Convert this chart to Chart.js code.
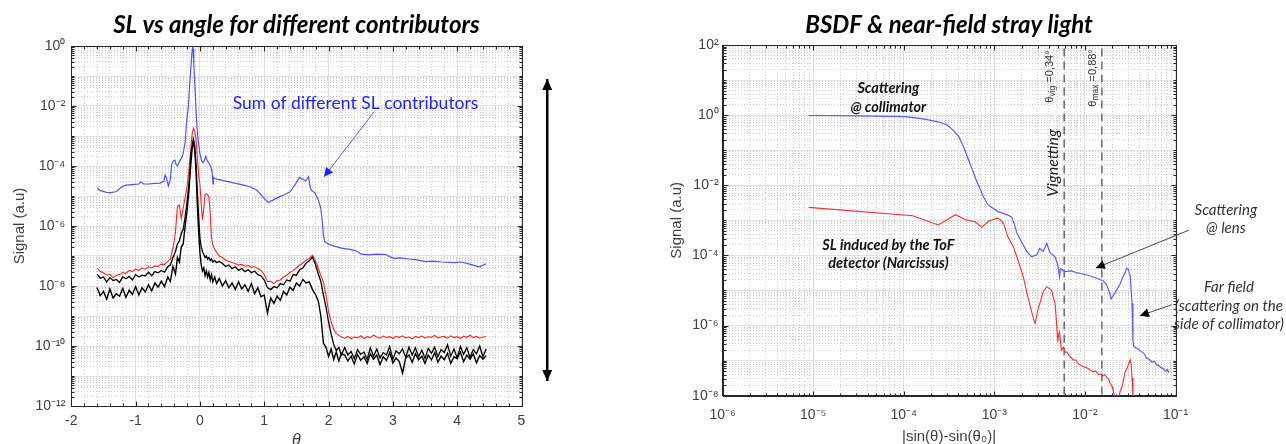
<!DOCTYPE html>
<html>
<head>
<meta charset="utf-8">
<script src="https://cdn.jsdelivr.net/npm/chart.js@4.4.0/dist/chart.umd.min.js"></script>
<style>
  body { margin: 0; background: #fff; width: 1286px; height: 444px; overflow: hidden; position: relative; }
  canvas { position: absolute; top: 0; }
  #chartTheta { left: 0; }
  #chartBsdf { left: 612px; }
</style>
</head>
<body>
<canvas id="chartTheta" width="593" height="444"></canvas>
<canvas id="chartBsdf" width="674" height="444"></canvas>
<script>
// ---- left chart: signal vs theta (values stored as log10 of the signal) ----
const sumCurve = [
  [-1.60,-4.74],[-1.55,-4.82],[-1.45,-4.88],[-1.38,-4.89],[-1.30,-4.85],[-1.22,-4.70],[-1.15,-4.64],
  [-1.05,-4.62],[-0.95,-4.60],[-0.92,-4.53],[-0.88,-4.60],[-0.80,-4.60],[-0.70,-4.58],[-0.62,-4.57],
  [-0.56,-4.50],[-0.54,-4.30],[-0.52,-4.40],[-0.49,-4.67],[-0.46,-4.45],[-0.44,-3.95],[-0.41,-3.82],
  [-0.39,-3.80],[-0.37,-3.95],[-0.35,-4.00],[-0.33,-3.92],[-0.31,-3.82],[-0.28,-3.70],[-0.26,-3.58],
  [-0.23,-3.20],[-0.21,-2.60],[-0.18,-2.00],[-0.155,-1.15],[-0.135,-0.55],[-0.12,-0.10],[-0.113,0.0],
  [-0.105,-0.10],[-0.095,-0.60],[-0.08,-1.25],[-0.065,-1.90],[-0.05,-2.55],[-0.03,-3.10],[0.00,-3.60],
  [0.03,-3.85],[0.05,-3.90],[0.07,-3.80],[0.09,-3.68],[0.11,-3.80],[0.13,-3.88],[0.15,-3.95],
  [0.17,-4.02],[0.19,-4.20],[0.205,-4.60],[0.21,-4.38],[0.22,-4.40],[0.26,-4.44],[0.35,-4.48],
  [0.52,-4.56],[0.65,-4.62],[0.78,-4.69],[0.88,-4.80],[0.93,-4.91],[1.00,-5.08],[1.06,-5.22],
  [1.15,-5.12],[1.24,-5.02],[1.32,-4.95],[1.40,-4.86],[1.48,-4.62],[1.55,-4.38],[1.58,-4.42],
  [1.61,-4.45],[1.64,-4.50],[1.66,-4.45],[1.69,-4.36],[1.71,-4.65],[1.73,-4.80],[1.76,-4.85],
  [1.79,-4.90],[1.84,-5.13],[1.88,-5.40],[1.90,-5.80],[1.92,-6.30],[1.94,-6.52],[1.98,-6.58],
  [2.02,-6.62],[2.10,-6.68],[2.20,-6.74],[2.33,-6.78],[2.42,-6.82],[2.51,-6.94],[2.62,-6.96],
  [2.75,-6.94],[2.89,-6.95],[2.95,-7.02],[3.02,-7.08],[3.12,-7.06],[3.25,-7.10],[3.38,-7.13],
  [3.51,-7.19],[3.62,-7.17],[3.75,-7.20],[3.87,-7.21],[3.95,-7.22],[4.07,-7.20],[4.18,-7.26],
  [4.28,-7.32],[4.33,-7.36],[4.38,-7.33],[4.45,-7.26]
];

const thetaGrid = [
  -1.60,-1.55,-1.50,-1.45,-1.40,-1.35,-1.30,-1.25,-1.20,-1.15,-1.10,-1.05,-1.00,-0.95,-0.90,-0.85,-0.80,-0.75,-0.70,-0.65,-0.60,-0.55,-0.50,
  -0.46,-0.42,-0.38,-0.35,-0.32,-0.29,-0.26,-0.23,-0.20,-0.17,-0.14,-0.12,-0.10,-0.08,-0.06,-0.04,-0.02,0.00,0.02,0.04,0.06,0.08,0.10,0.12,0.14,0.16,0.18,0.20,0.23,0.26,0.30,
  0.35,0.40,0.45,0.50,0.55,0.60,0.65,0.70,0.75,0.80,0.85,0.90,0.95,1.00,1.05,1.10,1.15,1.20,1.25,1.30,1.35,1.40,1.45,1.50,1.55,1.60,1.65,1.70,1.75,1.80,
  1.84,1.88,1.92,1.96,2.00,2.04,2.08,2.12,2.16,2.20,
  2.25,2.30,2.35,2.40,2.45,2.50,2.55,2.60,2.65,2.70,2.75,2.80,2.85,2.90,2.95,3.00,3.05,3.10,3.15,3.20,3.25,3.30,3.35,3.40,3.45,
  3.50,3.55,3.60,3.65,3.70,3.75,3.80,3.85,3.90,3.95,4.00,4.05,4.10,4.15,4.20,4.25,4.30,4.35,4.40,4.45
];

const redLog = [
  -7.40,-7.52,-7.56,-7.64,-7.61,-7.72,-7.65,-7.62,-7.55,-7.58,-7.48,-7.52,-7.44,-7.48,-7.40,-7.44,-7.36,-7.40,-7.33,-7.35,-7.27,-7.28,-7.18,
  -7.10,-6.75,-6.20,-5.35,-5.30,-5.75,-5.40,-5.05,-4.70,-4.10,-3.40,-2.90,-2.74,-2.85,-3.10,-3.70,-4.30,-4.60,-5.30,-5.80,-5.40,-4.95,-4.92,-4.95,-5.05,-5.60,-6.40,-6.62,-6.78,-6.88,-7.00,
  -7.05,-7.14,-7.18,-7.22,-7.25,-7.30,-7.28,-7.34,-7.32,-7.38,-7.36,-7.42,-7.48,-7.62,-7.85,-7.84,-7.92,-7.82,-7.80,-7.70,-7.64,-7.55,-7.48,-7.40,-7.30,-7.24,-7.14,-7.08,-6.97,-7.18,
  -7.40,-7.66,-7.86,-8.30,-8.85,-9.20,-9.45,-9.58,-9.65,-9.70,
  -9.74,-9.68,-9.76,-9.70,-9.73,-9.66,-9.75,-9.69,-9.72,-9.64,-9.70,-9.74,-9.67,-9.72,-9.69,-9.75,-9.68,-9.71,-9.66,-9.73,-9.70,-9.76,-9.68,-9.72,-9.67,
  -9.74,-9.69,-9.71,-9.65,-9.73,-9.70,-9.68,-9.74,-9.66,-9.72,-9.69,-9.75,-9.67,-9.71,-9.64,-9.72,-9.68,-9.74,-9.70,-9.69
];

const blackUpperLog = [
  -7.60,-7.74,-7.70,-7.86,-7.72,-7.82,-7.78,-7.88,-7.70,-7.76,-7.68,-7.80,-7.62,-7.70,-7.64,-7.66,-7.54,-7.66,-7.52,-7.56,-7.48,-7.54,-7.36,
  -7.30,-7.05,-6.85,-6.60,-6.50,-6.25,-6.10,-5.70,-5.20,-4.60,-3.60,-3.30,-3.10,-3.35,-3.95,-4.90,-5.70,-6.40,-6.70,-6.85,-6.95,-7.05,-7.00,-7.10,-7.05,-7.15,-7.10,-7.20,-7.15,-7.22,-7.18,
  -7.25,-7.35,-7.30,-7.42,-7.36,-7.48,-7.42,-7.52,-7.46,-7.56,-7.50,-7.62,-7.66,-7.80,-8.05,-8.12,-8.02,-8.06,-7.92,-7.96,-7.80,-7.84,-7.62,-7.64,-7.46,-7.40,-7.24,-7.16,-7.04,-7.30,
  -7.60,-7.85,-8.30,-8.70,-9.20,-9.60,-9.95,-10.15,-10.05,-10.30,
  -10.05,-10.30,-10.18,-10.42,-10.12,-10.28,-10.20,-10.45,-10.06,-10.34,-10.10,-10.40,-10.22,-10.30,-10.02,-10.44,-10.16,-10.26,-10.10,-10.38,-10.04,-10.30,-10.06,-10.36,-10.14,
  -10.42,-10.08,-10.24,-10.04,-10.36,-10.12,-10.22,-9.96,-10.34,-10.10,-10.40,-10.02,-10.28,-10.06,-10.38,-10.12,-10.26,-10.00,-10.36,-10.10
];

const blackLowerLog = [
  -8.05,-8.32,-8.18,-8.44,-8.10,-8.40,-8.26,-8.34,-8.08,-8.38,-8.14,-8.28,-8.02,-8.30,-8.06,-8.20,-7.96,-8.16,-7.90,-8.04,-7.84,-8.02,-7.70,
  -7.85,-7.35,-7.60,-7.05,-7.20,-6.70,-6.60,-6.00,-5.50,-4.80,-3.90,-3.40,-3.20,-3.50,-4.20,-5.30,-6.20,-6.90,-7.30,-7.50,-7.40,-7.65,-7.50,-7.70,-7.55,-7.80,-7.62,-7.86,-7.70,-7.92,-7.75,
  -8.00,-7.82,-8.06,-7.90,-8.12,-7.86,-8.10,-7.96,-8.18,-7.92,-8.26,-8.06,-8.36,-8.30,-8.90,-8.40,-8.58,-8.34,-8.48,-8.18,-8.30,-8.04,-8.14,-7.90,-8.00,-7.78,-7.90,-7.86,-8.12,-8.30,
  -8.50,-9.00,-9.90,-10.05,-10.35,-10.10,-10.45,-10.20,-10.50,-10.25,
  -10.30,-10.50,-10.34,-10.60,-10.28,-10.48,-10.36,-10.58,-10.26,-10.44,-10.30,-10.62,-10.36,-10.48,-10.22,-10.56,-10.40,-10.52,-10.90,-10.40,-10.30,-10.54,-10.26,-10.46,-10.34,
  -10.58,-10.30,-10.46,-10.22,-10.54,-10.34,-10.46,-10.24,-10.58,-10.36,-10.42,-10.20,-10.52,-10.30,-10.44,-10.26,-10.56,-10.32,-10.44,-10.32
];

// ---- right chart: BSDF, [log10 |sin(t)-sin(t0)|, log10 signal] ----
const collimatorCurve = [
  [-5.05,-0.01],[-4.50,-0.02],[-3.99,-0.04],[-3.80,-0.10],[-3.62,-0.19],[-3.52,-0.28],[-3.45,-0.44],
  [-3.39,-0.62],[-3.34,-0.90],[-3.27,-1.37],[-3.20,-1.85],[-3.12,-2.33],[-3.07,-2.56],[-3.01,-2.66],
  [-2.96,-2.75],[-2.90,-2.80],[-2.85,-2.85],[-2.81,-2.90],[-2.78,-3.10],[-2.75,-3.37],[-2.70,-3.61],
  [-2.64,-3.89],[-2.59,-4.04],[-2.53,-3.98],[-2.50,-3.80],[-2.46,-3.88],[-2.42,-3.66],[-2.39,-3.90],
  [-2.33,-4.04],[-2.30,-4.27],[-2.28,-4.61],[-2.27,-4.38],[-2.22,-4.46],[-2.15,-4.44],[-2.08,-4.50],
  [-2.02,-4.53],[-1.95,-4.58],[-1.87,-4.65],[-1.80,-4.72],[-1.76,-4.84],[-1.73,-5.05],[-1.71,-5.24],
  [-1.68,-5.12],[-1.65,-4.99],[-1.61,-4.80],[-1.58,-4.61],[-1.55,-4.45],[-1.54,-4.37],[-1.52,-4.40],
  [-1.50,-4.60],[-1.48,-5.37],[-1.47,-6.41],[-1.46,-6.60],[-1.42,-6.66],[-1.37,-6.75],[-1.34,-6.82],
  [-1.32,-6.93],[-1.29,-6.96],[-1.26,-7.04],[-1.23,-7.02],[-1.21,-7.12],[-1.18,-7.15],[-1.16,-7.20],
  [-1.14,-7.22],[-1.11,-7.30],[-1.09,-7.26],[-1.07,-7.34]
];

const narcissusCurve = [
  [-5.05,-2.63],[-3.90,-2.87],[-3.62,-3.13],[-3.43,-2.84],[-3.31,-2.99],[-3.21,-3.04],[-3.14,-3.20],
  [-3.06,-3.02],[-2.97,-2.94],[-2.94,-2.97],[-2.90,-3.08],[-2.85,-3.47],[-2.79,-3.75],[-2.74,-4.13],
  [-2.68,-4.61],[-2.63,-5.18],[-2.57,-5.79],[-2.55,-5.94],[-2.52,-5.56],[-2.46,-5.03],[-2.42,-4.89],
  [-2.37,-4.98],[-2.33,-5.37],[-2.31,-6.03],[-2.30,-6.46],[-2.29,-6.25],[-2.28,-6.18],[-2.26,-6.70],
  [-2.24,-6.62],[-2.22,-6.76],[-2.20,-6.75],[-2.17,-6.86],[-2.13,-6.98],[-2.10,-6.98],[-2.07,-7.10],
  [-2.02,-7.17],[-1.97,-7.22],[-1.91,-7.32],[-1.88,-7.30],[-1.85,-7.40],[-1.82,-7.38],[-1.80,-7.44],
  [-1.78,-7.40],[-1.76,-7.48],[-1.74,-7.52],[-1.72,-7.65],[-1.70,-7.74],[-1.69,-7.84],[-1.67,-8.05],
  [-1.65,-7.98],[-1.63,-8.10],[-1.61,-7.86],[-1.59,-7.74],[-1.57,-7.50],[-1.56,-7.36],[-1.53,-7.18],
  [-1.50,-6.98],[-1.49,-7.10],[-1.48,-7.50],[-1.47,-8.00],[-1.46,-8.60]
];

const cutoffX = [0.0059, 0.0154];            // sin(0.34°), sin(0.88°)
const cutoffLabels = [['θ', 'vig', ' =0,34°'], ['θ', 'max', ' =0,88°']];

[redLog, blackUpperLog, blackLowerLog].forEach(a => {
  if (a.length !== thetaGrid.length) throw new Error('length mismatch ' + a.length + ' vs ' + thetaGrid.length);
});

// ---- helpers ----
Chart.defaults.font.family = "'Liberation Sans', Arial, sans-serif";
Chart.defaults.color = '#404040';

const supMap = {'-':'⁻','0':'⁰','1':'¹','2':'²','3':'³','4':'⁴','5':'⁵','6':'⁶','7':'⁷','8':'⁸','9':'⁹'};
function powerLabel(v) {
  const e = Math.round(Math.log10(v));
  return '10' + String(e).split('').map(c => supMap[c]).join('');
}

function logTicks(minExp, maxExp, every) {
  const ticks = [];
  for (let e = minExp; e <= maxExp; e++) {
    ticks.push({ value: Math.pow(10, e), show: e % every === 0, solid: true });
    if (e < maxExp) {
      for (let m = 2; m <= 9; m++) ticks.push({ value: m * Math.pow(10, e), show: false, solid: false });
    }
  }
  return ticks;
}

function linTicks(min, max, sub) {
  const ticks = [];
  for (let i = min * sub; i <= max * sub; i++) {
    ticks.push({ value: i / sub, show: i % sub === 0, solid: i % sub === 0 });
  }
  return ticks;
}

const gridStyle = {
  grid: { drawTicks: false, color: c => (c.tick && c.tick.solid) ? '#e1e1e1' : '#cdcdcd', lineWidth: 1 },
  border: { color: '#262626', dash: c => (c.tick && !c.tick.solid) ? [1, 2] : [] }
};

const toPoints = pairs => pairs.map(p => ({ x: p[0], y: Math.pow(10, p[1]) }));
const toPointsLogXY = pairs => pairs.map(p => ({ x: Math.pow(10, p[0]), y: Math.pow(10, p[1]) }));
const onGrid = logs => thetaGrid.map((t, i) => ({ x: t, y: Math.pow(10, logs[i]) }));

function arrow(ctx, x1, y1, x2, y2, len, half, both) {
  ctx.beginPath(); ctx.moveTo(x1, y1); ctx.lineTo(x2, y2); ctx.stroke();
  const heads = both ? [[x2, y2, x1, y1], [x1, y1, x2, y2]] : [[x2, y2, x1, y1]];
  heads.forEach(([hx, hy, fx, fy]) => {
    const a = Math.atan2(hy - fy, hx - fx);
    ctx.beginPath();
    ctx.moveTo(hx, hy);
    ctx.lineTo(hx - len * Math.cos(a) + half * Math.sin(a), hy - len * Math.sin(a) - half * Math.cos(a));
    ctx.lineTo(hx - len * Math.cos(a) - half * Math.sin(a), hy - len * Math.sin(a) + half * Math.cos(a));
    ctx.closePath(); ctx.fill();
  });
}

function text(ctx, str, x, y, font, color, rot) {
  ctx.save();
  ctx.translate(x, y);
  if (rot) ctx.rotate(rot);
  ctx.font = font; ctx.fillStyle = color;
  ctx.textAlign = 'center'; ctx.textBaseline = 'middle';
  ctx.fillText(str, 0, 0);
  ctx.restore();
}

function titlePlugin(title) {
  return {
    id: 'matlabTitle',
    afterDraw(chart) {
      const a = chart.chartArea;
      text(chart.ctx, title, (a.left + a.right) / 2, 25, "italic bold 24px Lato", '#000');
    }
  };
}

const axesFrame = {
  id: 'axesFrame',
  afterDatasetsDraw(chart) {
    const { ctx, chartArea: a, scales: { x, y } } = chart;
    const L = Math.round(a.left) + 0.5, R = Math.round(a.right) + 0.5;
    const T = Math.round(a.top) + 0.5, B = Math.round(a.bottom) + 0.5;
    ctx.save();
    ctx.strokeStyle = '#262626'; ctx.lineWidth = 1;
    ctx.strokeRect(L, T, R - L, B - T);
    ctx.beginPath();
    x.ticks.forEach(t => {
      const p = Math.round(x.getPixelForValue(t.value)) + 0.5, len = t.show ? 5 : 3;
      ctx.moveTo(p, B); ctx.lineTo(p, B - len); ctx.moveTo(p, T); ctx.lineTo(p, T + len);
    });
    y.ticks.forEach(t => {
      const p = Math.round(y.getPixelForValue(t.value)) + 0.5, len = t.show ? 5 : 3;
      ctx.moveTo(L, p); ctx.lineTo(L + len, p); ctx.moveTo(R, p); ctx.lineTo(R - len, p);
    });
    ctx.stroke();
    ctx.restore();
  }
};

// ---- left chart annotations ----
const thetaNotes = {
  id: 'thetaNotes',
  afterDraw(chart) {
    const { ctx } = chart;
    const px = (x, l) => [chart.scales.x.getPixelForValue(x), chart.scales.y.getPixelForValue(Math.pow(10, l))];
    ctx.save();
    const [tx, ty] = px(2.42, -1.9);
    text(ctx, 'Sum of different SL contributors', tx, ty, "17.5px Lato", '#1f1fff');
    ctx.strokeStyle = '#5a5aff'; ctx.fillStyle = '#1f1fff'; ctx.lineWidth = 1;
    const [a1x, a1y] = px(2.71, -2.19), [a2x, a2y] = px(1.93, -4.36);
    arrow(ctx, a1x, a1y, a2x, a2y, 9, 4.5, false);
    ctx.strokeStyle = '#000'; ctx.fillStyle = '#000'; ctx.lineWidth = 2.5;
    const [d1x, d1y] = px(5.4, -0.97), [, d2y] = px(5.4, -11.3);
    arrow(ctx, d1x, d1y + 4, d1x, d2y - 4, 11, 5, true);
    ctx.restore();
  }
};

// ---- right chart annotations ----
const bsdfNotes = {
  id: 'bsdfNotes',
  beforeDatasetsDraw(chart) {
    const { ctx } = chart;
    const y = chart.scales.y;
    ctx.save();
    ctx.strokeStyle = '#555'; ctx.lineWidth = 1.3; ctx.setLineDash([8, 5]);
    cutoffX.forEach(v => {
      const p = chart.scales.x.getPixelForValue(v);
      ctx.beginPath(); ctx.moveTo(p, y.getPixelForValue(Math.pow(10, 1.9))); ctx.lineTo(p, chart.chartArea.bottom); ctx.stroke();
    });
    ctx.restore();
  },
  afterDraw(chart) {
    const { ctx } = chart;
    const px = (lx, ly) => [chart.scales.x.getPixelForValue(Math.pow(10, lx)), chart.scales.y.getPixelForValue(Math.pow(10, ly))];
    const bi = "italic bold 14.5px Lato", it = "italic 15px Lato";
    ctx.save();
    text(ctx, 'Scattering', ...px(-4.17, 0.77), bi, '#111');
    text(ctx, '@ collimator', ...px(-4.17, 0.23), bi, '#111');
    text(ctx, 'SL induced by the ToF', ...px(-4.17, -3.70), bi, '#111');
    text(ctx, 'detector (Narcissus)', ...px(-4.17, -4.22), bi, '#111');
    text(ctx, 'Vignetting', ...px(-2.353, -1.365), "italic 16px Lato", '#222', -Math.PI / 2);
    text(ctx, 'Scattering', ...px(-0.444, -2.70), it, '#333');
    text(ctx, '@ lens', ...px(-0.444, -3.22), it, '#333');
    text(ctx, 'Far field', ...px(-0.41, -4.90), it, '#333');
    text(ctx, '(scattering on the', ...px(-0.41, -5.44), it, '#333');
    text(ctx, 'side of collimator)', ...px(-0.41, -5.96), it, '#333');

    // rotated cut-off labels with subscripts
    const anchors = [px(-2.386, 1.10), px(-1.912, 1.06)];
    cutoffLabels.forEach((parts, k) => {
      const [ax, ay] = anchors[k];
      ctx.save();
      ctx.translate(ax, ay); ctx.rotate(-Math.PI / 2);
      ctx.fillStyle = '#333'; ctx.textBaseline = 'middle'; ctx.textAlign = 'left';
      const fonts = ["11px 'Liberation Sans'", "8.5px 'Liberation Sans'", "11px 'Liberation Sans'"];
      const widths = parts.map((p, i) => { ctx.font = fonts[i]; return ctx.measureText(p).width; });
      let cx = -widths.reduce((s, w) => s + w, 0) / 2;
      parts.forEach((p, i) => { ctx.font = fonts[i]; ctx.fillText(p, cx, i === 1 ? 3 : 0); cx += widths[i]; });
      ctx.restore();
    });

    ctx.strokeStyle = '#444'; ctx.fillStyle = '#000'; ctx.lineWidth = 1;
    const [l1x, l1y] = px(-0.852, -3.28), [l2x, l2y] = px(-1.879, -4.36);
    arrow(ctx, l1x, l1y, l2x, l2y, 9, 4.5, false);
    const [f1x, f1y] = px(-1.043, -5.41), [f2x, f2y] = px(-1.393, -5.72);
    arrow(ctx, f1x, f1y, f2x, f2y, 9, 4.5, false);
    ctx.restore();
  }
};

// ---- charts ----
const chartTheta = new Chart(document.getElementById('chartTheta'), {
  type: 'line',
  data: {
    datasets: [
      { label: 'Sum of different SL contributors', data: toPoints(sumCurve), borderColor: '#5050ff', borderWidth: 1.2 },
      { label: 'Contributor A', data: onGrid(blackUpperLog), borderColor: '#000', borderWidth: 1.3 },
      { label: 'Contributor B', data: onGrid(blackLowerLog), borderColor: '#000', borderWidth: 1.4 },
      { label: 'Contributor C', data: onGrid(redLog), borderColor: '#ff2020', borderWidth: 1.1 }
    ]
  },
  options: {
    responsive: false,
    animation: false,
    elements: { point: { radius: 0 }, line: { tension: 0 } },
    layout: { padding: { top: 46, right: 71.5, bottom: 0, left: 4 } },
    plugins: { legend: { display: false }, tooltip: { enabled: false } },
    scales: {
      x: {
        type: 'linear', min: -2, max: 5,
        afterBuildTicks: s => { s.ticks = linTicks(-2, 5, 5); },
        afterFit: s => { s.height = 38; },
        ticks: { autoSkip: false, maxRotation: 0, padding: 7, font: { size: 14 },
                 callback: (v, i, t) => t[i].show ? String(Math.round(v)) : '' },
        title: { display: true, text: 'θ', font: { size: 16, style: 'italic' }, padding: { top: 0, bottom: -6 } },
        ...gridStyle
      },
      y: {
        type: 'logarithmic', min: 1e-12, max: 1,
        afterBuildTicks: s => { s.ticks = logTicks(-12, 0, 2); },
        afterFit: s => { s.width = 67.3; },
        ticks: { autoSkip: false, padding: 6, font: { size: 14 },
                 callback: (v, i, t) => t[i].show ? powerLabel(v) : '' },
        title: { display: true, text: 'Signal (a.u)', font: { size: 15 }, padding: { top: 7, bottom: 0 } },
        ...gridStyle
      }
    }
  },
  plugins: [axesFrame, titlePlugin('SL vs angle for different contributors'), thetaNotes]
});

const chartBsdf = new Chart(document.getElementById('chartBsdf'), {
  type: 'line',
  data: {
    datasets: [
      { label: 'Scattering @ collimator', data: toPointsLogXY(collimatorCurve), borderColor: '#5a5aff', borderWidth: 1.2 },
      { label: 'SL induced by the ToF detector', data: toPointsLogXY(narcissusCurve), borderColor: '#ff2a2a', borderWidth: 1.1 }
    ]
  },
  options: {
    responsive: false,
    animation: false,
    elements: { point: { radius: 0 }, line: { tension: 0 } },
    layout: { padding: { top: 45, right: 110.5, bottom: 0, left: 46 } },
    plugins: { legend: { display: false }, tooltip: { enabled: false } },
    scales: {
      x: {
        type: 'logarithmic', min: 1e-6, max: 1e-1,
        afterBuildTicks: s => { s.ticks = logTicks(-6, -1, 1); },
        afterFit: s => { s.height = 48.3; },
        ticks: { autoSkip: false, maxRotation: 0, padding: 11, font: { size: 14 },
                 callback: (v, i, t) => t[i].show ? powerLabel(v) : '' },
        title: { display: true, text: '|sin(θ)-sin(θ₀)|', font: { size: 15 }, padding: { top: 0, bottom: -2 } },
        ...gridStyle
      },
      y: {
        type: 'logarithmic', min: 1e-8, max: 1e2,
        afterBuildTicks: s => { s.ticks = logTicks(-8, 2, 2); },
        afterFit: s => { s.width = 64.6; },
        ticks: { autoSkip: false, padding: 4, font: { size: 14 },
                 callback: (v, i, t) => t[i].show ? powerLabel(v) : '' },
        title: { display: true, text: 'Signal (a.u)', font: { size: 15 }, padding: { top: 10, bottom: 0 } },
        ...gridStyle
      }
    }
  },
  plugins: [axesFrame, titlePlugin('BSDF & near-field stray light'), bsdfNotes]
});
</script>
</body>
</html>
